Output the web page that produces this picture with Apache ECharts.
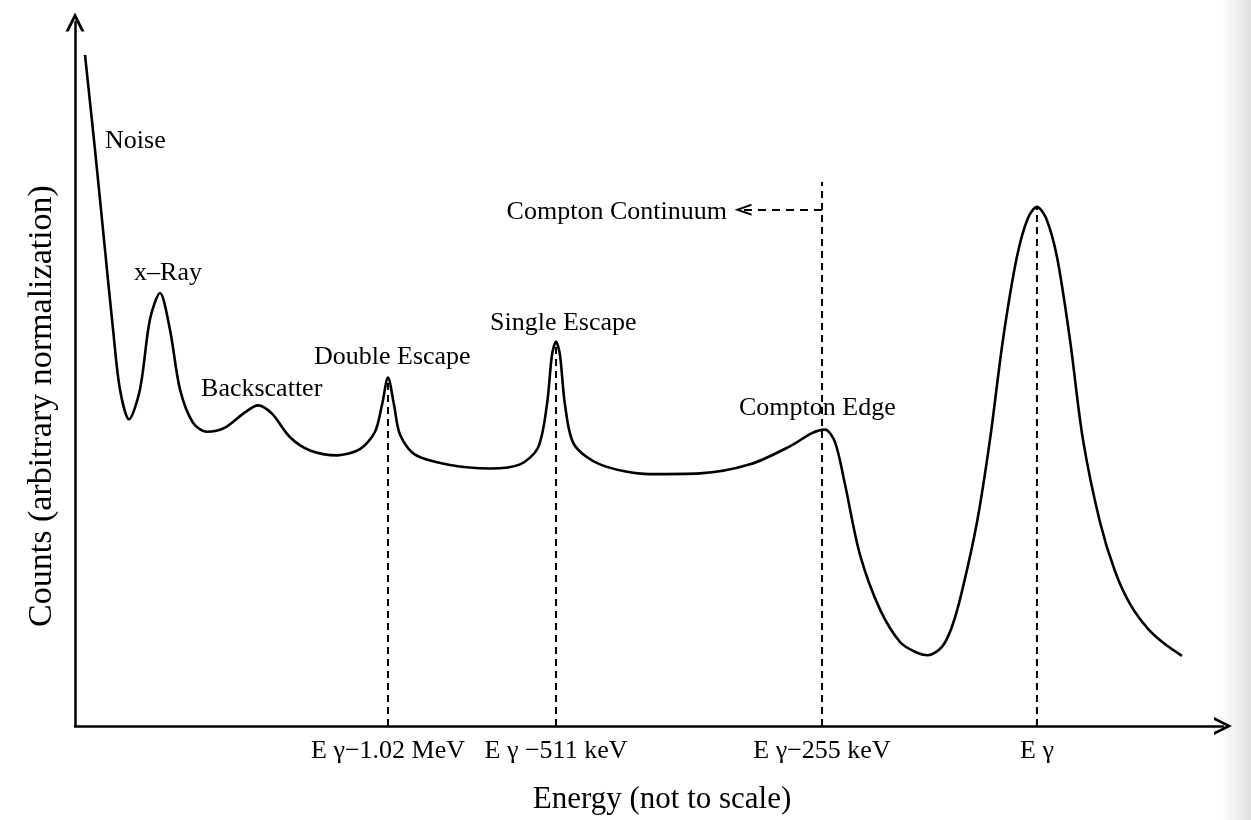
<!DOCTYPE html>
<html>
<head>
<meta charset="utf-8">
<script src="https://cdn.jsdelivr.net/npm/echarts@6/dist/echarts.min.js"></script>
<style>html,body{margin:0;padding:0;background:#fff}#c{width:1251px;height:820px}</style>
</head>
<body>
<div id="c"></div>
<script>
// Energy (arbitrary, not to scale) and counts (arbitrary normalization)
const energy = [1.13, 2.0, 2.87, 3.57, 4.17, 4.96, 5.91, 6.78, 7.65, 8.52, 9.39, 10.52, 11.74, 13.30, 15.04, 16.17, 17.39, 18.96, 20.70, 23.04, 25.04, 26.35, 26.96, 27.48, 28.0, 28.52, 29.83, 32.87, 36.35, 38.96, 40.52, 41.30, 41.74, 42.09, 42.43, 42.87, 43.65, 45.91, 50.26, 54.61, 58.96, 62.43, 64.35, 65.48, 66.35, 67.22, 68.52, 70.26, 72.0, 73.30, 74.43, 75.65, 76.52, 77.39, 78.70, 79.83, 80.96, 82.17, 83.13, 83.91, 84.70, 85.65, 86.78, 87.91, 89.39, 90.70, 92.0, 93.57, 95.04, 96.52];
const counts = [96.7, 83.0, 68.6, 57.1, 48.5, 44.2, 48.5, 58.6, 62.4, 57.1, 48.5, 43.7, 42.4, 43.0, 45.2, 46.2, 45.0, 41.6, 39.7, 39.0, 39.9, 42.4, 46.3, 50.2, 46.3, 42.0, 39.1, 37.6, 37.1, 37.7, 40.1, 46.3, 53.5, 55.4, 53.5, 46.3, 40.6, 37.7, 36.3, 36.4, 37.7, 40.3, 42.2, 42.7, 40.9, 34.8, 24.7, 16.8, 12.1, 10.7, 10.2, 11.4, 14.3, 19.4, 29.4, 41.3, 55.7, 67.6, 73.2, 74.8, 73.2, 67.6, 55.7, 41.3, 29.4, 22.3, 17.6, 14.0, 11.8, 10.1];

// Reference energies (dashed lines) and their tick labels
const markerX = [27.48, 42.09, 65.22, 83.91];
const markerTop = [50.2, 55.4, 78.4, 74.8];
const tickLabels = ['E γ−1.02 MeV', 'E γ −511 keV', 'E γ−255 keV', 'E γ'];

// Feature annotations
const featureNames = ['Noise', 'x–Ray', 'Backscatter', 'Double Escape', 'Single Escape', 'Compton Edge', 'Compton Continuum'];
const featureX = [2.87, 8.35, 11.22, 21.04, 36.35, 58.0, 56.95];
const featureY = [84.2, 65.2, 48.6, 53.2, 58.0, 45.8, 74.1];
const featureAnchor = ['right', 'inside', 'right', 'right', 'right', 'right', 'left'];

// Compton continuum arrow (from Compton edge toward lower energy)
const continuumFrom = [65.22, 74.4];
const continuumTo = [58.35, 74.4];

const FONT = 'Liberation Serif';
const chevronUp = 'path://M5,0 L10,10 L8.3,10 L5,3.3 L1.7,10 L0,10 Z';

const curve = energy.map((x, i) => [x, counts[i]]);
const dashed = [];
markerX.forEach((x, i) => { dashed.push([x, 0]); dashed.push([x, markerTop[i]]); dashed.push('-'); });
const labelData = featureNames.map((n, i) => ({
  name: n,
  value: [featureX[i], featureY[i]],
  label: { position: featureAnchor[i], distance: 0 }
}));

const chart = echarts.init(document.getElementById('c'), null, { renderer: 'canvas' });
chart.setOption({
  backgroundColor: '#ffffff',
  animation: false,
  graphic: [{
    type: 'rect', right: 0, top: 0, z: -10,
    shape: { width: 30, height: 820 },
    style: { fill: new echarts.graphic.LinearGradient(0, 0, 1, 0, [
      { offset: 0, color: 'rgba(0,0,0,0)' }, { offset: 1, color: 'rgba(0,0,0,0.12)' }]) }
  }],
  grid: { left: 75, right: 28, top: 22, bottom: 93 },
  xAxis: {
    type: 'value', min: 0.26, max: 100.09,
    name: 'Energy (not to scale)', nameLocation: 'middle', nameGap: 58,
    nameTextStyle: { fontFamily: FONT, fontSize: 31, color: '#000', padding: [0, 0, 0, 26] },
    axisLine: { show: true, symbol: ['none', chevronUp], symbolSize: [18, 25],
      lineStyle: { color: '#000', width: 2.5 } },
    axisTick: { show: false },
    splitLine: { show: false },
    axisLabel: {
      show: true, customValues: markerX, margin: 12,
      fontFamily: FONT, fontSize: 26, color: '#000',
      formatter: (v) => { const i = markerX.indexOf(v); return i >= 0 ? tickLabels[i] : ''; }
    }
  },
  yAxis: {
    type: 'value', min: 0, max: 101.44,
    name: 'Counts (arbitrary normalization)', nameLocation: 'middle', nameGap: 16, nameRotate: 90,
    nameTextStyle: { fontFamily: FONT, fontSize: 34, color: '#000', padding: [0, 64, 0, 0] },
    axisLine: { show: true, symbol: ['none', chevronUp], symbolSize: [19, 24],
      lineStyle: { color: '#000', width: 2.5 } },
    axisTick: { show: false },
    splitLine: { show: false },
    axisLabel: { show: false }
  },
  series: [
    {
      type: 'line', data: curve, smooth: 0.3, showSymbol: false, symbol: 'none',
      lineStyle: { color: '#000', width: 2.6 }, z: 5
    },
    {
      type: 'line', data: dashed, showSymbol: false, symbol: 'none', connectNulls: false,
      lineStyle: { color: '#000', width: 2, type: [7, 5] }, z: 3
    },
    {
      type: 'line', data: [], symbol: 'none',
      markLine: {
        silent: true, symbol: ['none', chevronUp], symbolSize: [12, 17],
        label: { show: false },
        lineStyle: { color: '#000', width: 2, type: [8, 6] },
        data: [[{ coord: continuumFrom }, { coord: continuumTo }]]
      }
    },
    {
      type: 'scatter', data: labelData, symbolSize: 0, silent: true, z: 10,
      itemStyle: { opacity: 1 },
      label: {
        show: true, formatter: '{b}', fontFamily: FONT, fontSize: 26, color: '#000'
      }
    }
  ]
});
</script>
</body>
</html>
